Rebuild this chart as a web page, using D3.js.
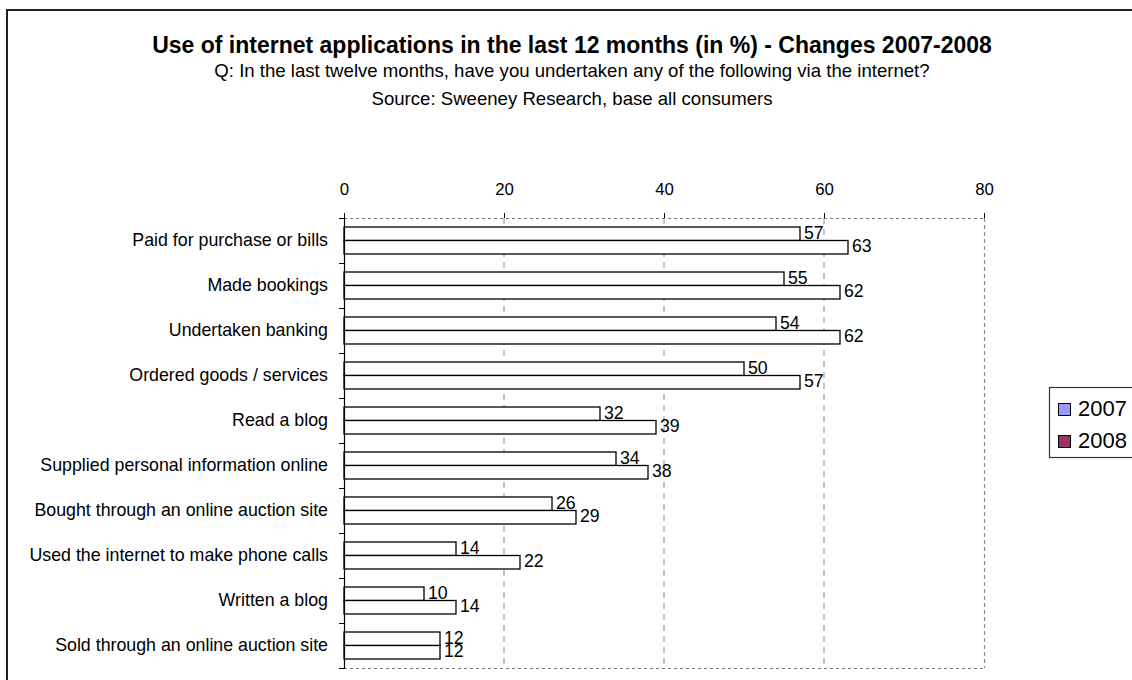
<!DOCTYPE html>
<html>
<head>
<meta charset="utf-8">
<script src="https://cdn.jsdelivr.net/npm/d3@7/dist/d3.min.js"></script>
<style>
  html, body { margin: 0; padding: 0; background: #fff; }
  svg { display: block; font-family: Arial, "Liberation Sans", sans-serif; }
</style>
</head>
<body>
<svg id="chart" width="1132" height="680"></svg>
<script>
// Internet usage survey, share of consumers (%) by activity
const categories = [
  "Paid for purchase or bills",
  "Made bookings",
  "Undertaken banking",
  "Ordered goods / services",
  "Read a blog",
  "Supplied personal information online",
  "Bought through an online auction site",
  "Used the internet to make phone calls",
  "Written a blog",
  "Sold through an online auction site"
];
const seriesNames = ["2007", "2008"];
const values2007 = [57, 55, 54, 50, 32, 34, 26, 14, 10, 12];
const values2008 = [63, 62, 62, 57, 39, 38, 29, 22, 14, 12];
const xTicks = [0, 20, 40, 60, 80];
const legendColors = ["#9999FF", "#993366"];

const titleText = "Use of internet applications in the last 12 months (in %) - Changes 2007-2008";
const subtitleText = "Q: In the last twelve months, have you undertaken any of the following via the internet?";
const sourceText = "Source: Sweeney Research, base all consumers";

const svg = d3.select("#chart");

// outer chart frame
svg.append("rect")
  .attr("x", 7).attr("y", 10)
  .attr("width", 1140).attr("height", 690)
  .attr("fill", "#fff").attr("stroke", "#222").attr("stroke-width", 2);

// titles
const cx = 572;
svg.append("text").attr("x", cx).attr("y", 53)
  .attr("text-anchor", "middle").attr("font-weight", "bold").attr("font-size", 23)
  .text(titleText);
svg.append("text").attr("x", cx).attr("y", 77)
  .attr("text-anchor", "middle").attr("font-size", 18.6)
  .text(subtitleText);
svg.append("text").attr("x", cx).attr("y", 105)
  .attr("text-anchor", "middle").attr("font-size", 18.6)
  .text(sourceText);

// plot area
const plot = { left: 344, right: 984, top: 218, bottom: 668 };

const x = d3.scaleLinear().domain([0, 80]).range([plot.left, plot.right]);
const y = d3.scaleBand().domain(categories).range([plot.top, plot.bottom]).padding(0);
const ySub = d3.scaleBand().domain(seriesNames)
  .range([0, y.bandwidth()]).paddingInner(0).paddingOuter(0.667);

const g = svg.append("g");

// gridlines at interior ticks
g.selectAll("line.grid")
  .data(xTicks.filter(t => t > 0 && t < 80))
  .join("line")
  .attr("class", "grid")
  .attr("x1", d => x(d)).attr("x2", d => x(d))
  .attr("y1", plot.top).attr("y2", plot.bottom)
  .attr("stroke", "#8a8a8a").attr("stroke-width", 1)
  .attr("stroke-dasharray", "6,5");

// plot-area border (top, right, bottom)
g.append("line")
  .attr("x1", plot.left).attr("x2", plot.right)
  .attr("y1", plot.top + 0.5).attr("y2", plot.top + 0.5)
  .attr("stroke", "#777").attr("stroke-dasharray", "3,3");
g.append("line")
  .attr("x1", plot.left).attr("x2", plot.right)
  .attr("y1", plot.bottom + 0.5).attr("y2", plot.bottom + 0.5)
  .attr("stroke", "#777").attr("stroke-dasharray", "3,3");
g.append("line")
  .attr("x1", plot.right + 0.5).attr("x2", plot.right + 0.5)
  .attr("y1", plot.top).attr("y2", plot.bottom)
  .attr("stroke", "#8a8a8a").attr("stroke-width", 1.2).attr("stroke-dasharray", "4,3");

// bars
const rows = categories.map((c, i) => ({ cat: c, vals: [
  { s: seriesNames[0], v: values2007[i] },
  { s: seriesNames[1], v: values2008[i] }
]}));

const groups = g.selectAll("g.row").data(rows).join("g")
  .attr("class", "row")
  .attr("transform", d => `translate(0,${y(d.cat)})`);

groups.selectAll("rect").data(d => d.vals).join("rect")
  .attr("x", x(0))
  .attr("y", d => ySub(d.s))
  .attr("width", d => x(d.v) - x(0))
  .attr("height", ySub.bandwidth())
  .attr("fill", "#fff").attr("stroke", "#000").attr("stroke-width", 1.3);

groups.selectAll("text.val").data(d => d.vals).join("text")
  .attr("class", "val")
  .attr("x", d => x(d.v) + 4)
  .attr("y", d => ySub(d.s) + ySub.bandwidth() - 1.5)
  .attr("font-size", 17.7)
  .text(d => d.v);

// top value axis
const xAxis = d3.axisTop(x).tickValues(xTicks).tickSize(5).tickPadding(18).tickFormat(d3.format("d"));
const xa = svg.append("g").attr("transform", `translate(0,${plot.top})`).call(xAxis);
xa.select(".domain").remove();
xa.selectAll(".tick line").attr("stroke", "#000");
xa.selectAll(".tick text").attr("font-size", 16.8).attr("font-family", null).attr("fill", "#000");

// category axis
const ya = svg.append("g").attr("transform", `translate(${plot.left},0)`);
ya.append("line")
  .attr("x1", 0.5).attr("x2", 0.5)
  .attr("y1", plot.top).attr("y2", plot.bottom + 1)
  .attr("stroke", "#000").attr("stroke-width", 1.2);
const boundaries = categories.map(c => y(c)).concat([plot.bottom]);
ya.selectAll("line.tk").data(boundaries).join("line")
  .attr("class", "tk")
  .attr("x1", -5).attr("x2", 0)
  .attr("y1", d => d + 0.5).attr("y2", d => d + 0.5)
  .attr("stroke", "#000");
ya.selectAll("text").data(categories).join("text")
  .attr("x", -16)
  .attr("y", d => y(d) + y.bandwidth() / 2 + 5.5)
  .attr("text-anchor", "end")
  .attr("font-size", 17.8)
  .text(d => d);

// legend
const lg = svg.append("g");
lg.append("rect")
  .attr("x", 1049.5).attr("y", 387.5)
  .attr("width", 100).attr("height", 70)
  .attr("fill", "#fff").attr("stroke", "#333").attr("stroke-width", 1.2);
seriesNames.forEach((s, i) => {
  lg.append("rect")
    .attr("x", 1058.5).attr("y", 403.5 + i * 32)
    .attr("width", 12).attr("height", 12)
    .attr("fill", legendColors[i]).attr("stroke", "#000");
  lg.append("text")
    .attr("x", 1078).attr("y", 415.5 + i * 32.5)
    .attr("font-size", 22)
    .text(s);
});
</script>
</body>
</html>
